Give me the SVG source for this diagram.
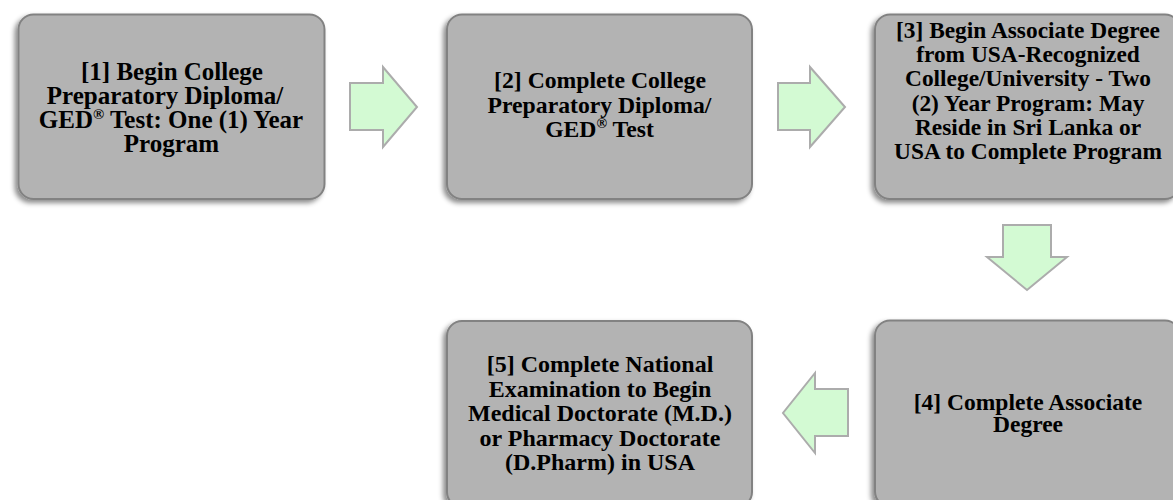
<svg xmlns="http://www.w3.org/2000/svg" width="1173" height="500" viewBox="0 0 1173 500">
<style>
.box{fill:#b3b3b3;stroke:#828282;stroke-width:2;filter:url(#sh)}
.arr{fill:#d3fad3;stroke:#acacac;stroke-width:2;stroke-linejoin:miter}
text{font-family:"Liberation Serif","Times New Roman",serif;font-weight:bold;fill:#000;text-anchor:middle}
.sup{font-size:60%}
</style>
<defs>
<filter id="sh" x="-10%" y="-10%" width="120%" height="125%">
<feDropShadow dx="-3" dy="3" stdDeviation="2.5" flood-color="#000" flood-opacity="0.45"/>
</filter>
</defs>
<rect width="1173" height="500" fill="#fff"/>
<g id="connectors">
<polygon class="arr" points="350,83 383,83 383,67 417,107 383,147 383,130 350,130"/>
<polygon class="arr" points="778,83 810,83 810,67 845,107 810,147 810,130 778,130"/>
<polygon class="arr" points="1003,225 1051,225 1051,257 1067,257 1027,290 987,257 1003,257"/>
<polygon class="arr" points="848,389 815,389 815,373 783,413 815,453 815,436 848,436"/>
</g>
<g id="node1">
<rect class="box" x="18.5" y="14.5" width="306" height="184.5" rx="15"/>
<text font-size="25"><tspan x="172" y="80">[1] Begin College</tspan><tspan x="165" y="104">Preparatory Diploma/</tspan><tspan x="171" y="128">GED<tspan class="sup" dy="-9">®</tspan><tspan dy="9"> Test: One (1) Year</tspan></tspan><tspan x="171.5" y="152">Program</tspan></text>
</g>
<g id="node2">
<rect class="box" x="447" y="14.5" width="305" height="184.5" rx="15"/>
<text font-size="23.7"><tspan x="600" y="88">[2] Complete College</tspan><tspan x="599.5" y="112.5">Preparatory Diploma/</tspan><tspan x="599.5" y="137">GED<tspan class="sup" dy="-9">®</tspan><tspan dy="9"> Test</tspan></tspan></text>
</g>
<g id="node3">
<rect class="box" x="875" y="14.5" width="305" height="184.5" rx="15"/>
<text font-size="23.4"><tspan x="1028" y="38">[3] Begin Associate Degree</tspan><tspan x="1028" y="62">from USA-Recognized</tspan><tspan x="1028" y="86">College/University - Two</tspan><tspan x="1028" y="111">(2) Year Program: May</tspan><tspan x="1028" y="135">Reside in Sri Lanka or</tspan><tspan x="1028" y="159">USA to Complete Program</tspan></text>
</g>
<g id="node4">
<rect class="box" x="875" y="320.5" width="305" height="186" rx="15"/>
<text font-size="23.5"><tspan x="1028" y="410">[4] Complete Associate</tspan><tspan x="1028" y="432">Degree</tspan></text>
</g>
<g id="node5">
<rect class="box" x="447" y="321" width="305" height="186" rx="15"/>
<text font-size="24"><tspan x="600" y="372">[5] Complete National</tspan><tspan x="600" y="396.5">Examination to Begin</tspan><tspan x="600" y="421">Medical Doctorate (M.D.)</tspan><tspan x="600" y="445.5">or Pharmacy Doctorate</tspan><tspan x="600" y="470">(D.Pharm) in USA</tspan></text>
</g>
</svg>
